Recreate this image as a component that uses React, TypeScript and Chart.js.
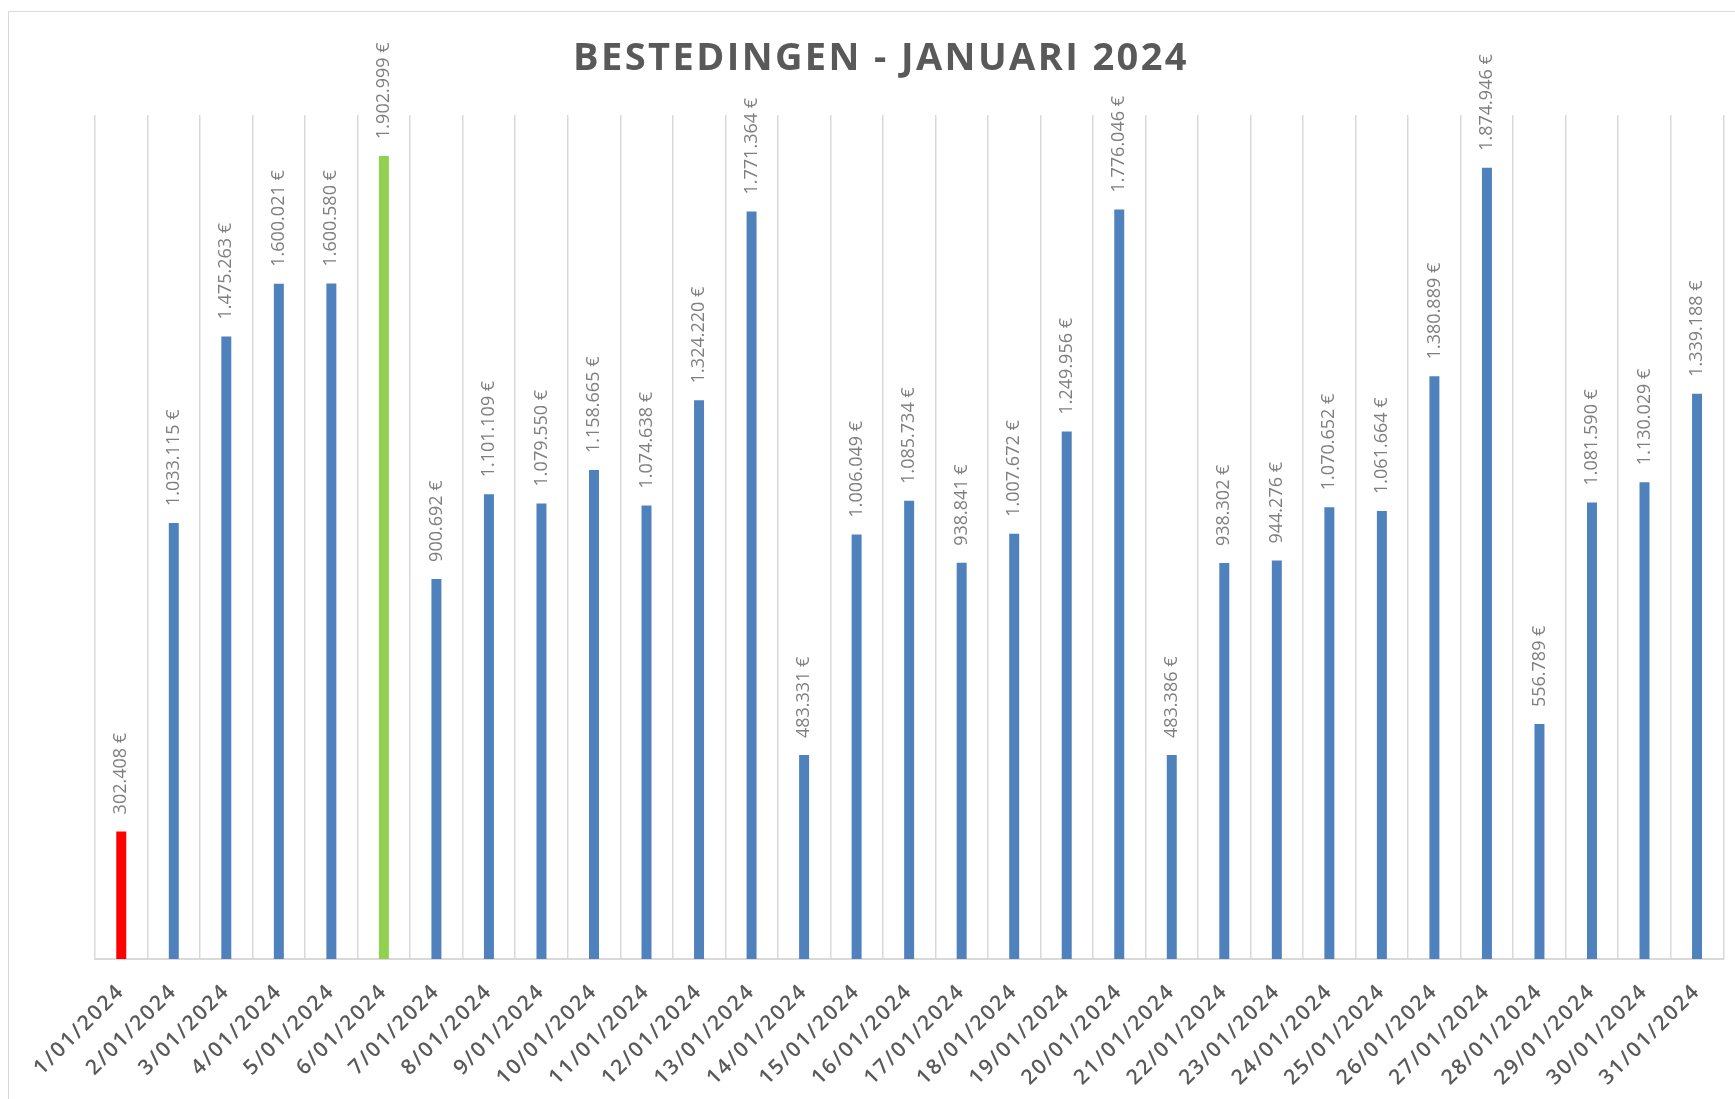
import { useEffect, useRef } from 'react';
import { Chart, registerables } from 'chart.js';

Chart.register(...registerables);

const titleText = 'BESTEDINGEN - JANUARI 2024';

const dayLabels = [
  '1/01/2024', '2/01/2024', '3/01/2024', '4/01/2024', '5/01/2024', '6/01/2024',
  '7/01/2024', '8/01/2024', '9/01/2024', '10/01/2024', '11/01/2024', '12/01/2024',
  '13/01/2024', '14/01/2024', '15/01/2024', '16/01/2024', '17/01/2024', '18/01/2024',
  '19/01/2024', '20/01/2024', '21/01/2024', '22/01/2024', '23/01/2024', '24/01/2024',
  '25/01/2024', '26/01/2024', '27/01/2024', '28/01/2024', '29/01/2024', '30/01/2024',
  '31/01/2024',
];

const spending = [
  302408, 1033115, 1475263, 1600021, 1600580, 1902999,
  900692, 1101109, 1079550, 1158665, 1074638, 1324220,
  1771364, 483331, 1006049, 1085734, 938841, 1007672,
  1249956, 1776046, 483386, 938302, 944276, 1070652,
  1061664, 1380889, 1874946, 556789, 1081590, 1130029,
  1339188,
];

const yMax = 2000000;

const colorLow = '#FF0000';
const colorHigh = '#92D050';
const colorBar = '#4F81BD';

function formatEuro(v: number): string {
  const s = String(Math.round(v));
  return s.replace(/\B(?=(\d{3})+(?!\d))/g, '.') + ' €';
}

const minIdx = spending.indexOf(Math.min(...spending));
const maxIdx = spending.indexOf(Math.max(...spending));
const barColors = spending.map((_, i) => (i === minIdx ? colorLow : i === maxIdx ? colorHigh : colorBar));

const decorPlugin = {
  id: 'decor',
  beforeDraw(chart: any) {
    const ctx = chart.ctx;
    ctx.save();
    ctx.fillStyle = '#ffffff';
    ctx.fillRect(0, 0, chart.width, chart.height);
    ctx.strokeStyle = '#d9d9d9';
    ctx.lineWidth = 1;
    ctx.strokeRect(8.5, 11.5, chart.width + 40, chart.height + 40);
    ctx.restore();
    (ctx as any).letterSpacing = '2px';
  },
  beforeDatasetsDraw(chart: any) {
    (chart.ctx as any).letterSpacing = '0px';
  },
  afterDatasetsDraw(chart: any) {
    const ctx = chart.ctx;
    const meta = chart.getDatasetMeta(0);
    ctx.save();
    (ctx as any).letterSpacing = '0px';
    ctx.font = '18px "Open Sans"';
    ctx.fillStyle = '#7f7f7f';
    ctx.textAlign = 'left';
    ctx.textBaseline = 'middle';
    meta.data.forEach((bar: any, i: number) => {
      ctx.save();
      ctx.translate(bar.x, bar.y - 17);
      ctx.rotate(-Math.PI / 2);
      ctx.fillText(formatEuro(spending[i]), 0, 0);
      ctx.restore();
    });
    ctx.font = 'bold 38px "Open Sans"';
    (ctx as any).letterSpacing = '2.4px';
    ctx.fillStyle = '#595959';
    ctx.textAlign = 'center';
    ctx.textBaseline = 'alphabetic';
    ctx.fillText(titleText, 881, 70);
    ctx.restore();
  },
};

export default function App() {
  const canvasRef = useRef<HTMLCanvasElement | null>(null);

  useEffect(() => {
    if (!canvasRef.current) return;
    const chart = new Chart(canvasRef.current, {
      type: 'bar',
      data: {
        labels: dayLabels,
        datasets: [
          {
            data: spending,
            backgroundColor: barColors,
            borderWidth: 0,
            barPercentage: 0.19,
            categoryPercentage: 1.0,
          },
        ],
      },
      options: {
        responsive: false,
        animation: false,
        devicePixelRatio: 1,
        layout: { padding: { top: 115, left: 95, right: 9, bottom: 0 } },
        plugins: {
          legend: { display: false },
          title: { display: false },
          tooltip: { enabled: false },
        },
        scales: {
          x: {
            offset: true,
            grid: {
              display: true,
              offset: true,
              color: '#d9d9d9',
              lineWidth: 1.5,
              drawTicks: false,
            },
            border: { display: true, color: '#d9d9d9', width: 2 },
            ticks: {
              autoSkip: false,
              maxRotation: 45,
              minRotation: 45,
              padding: 20,
              color: '#595959',
              font: { family: 'Open Sans', size: 21, weight: '600' as any },
            },
            afterFit: (scale: any) => {
              scale.height = 140;
            },
          },
          y: {
            display: false,
            min: 0,
            max: yMax,
          },
        },
      },
      plugins: [decorPlugin],
    });
    return () => chart.destroy();
  }, []);

  return (
    <div style={{ position: 'fixed', left: 0, top: 0, width: 1735, height: 1099, background: '#fff' }}>
      <canvas ref={canvasRef} width={1735} height={1099} style={{ width: 1735, height: 1099, display: 'block' }} />
    </div>
  );
}
